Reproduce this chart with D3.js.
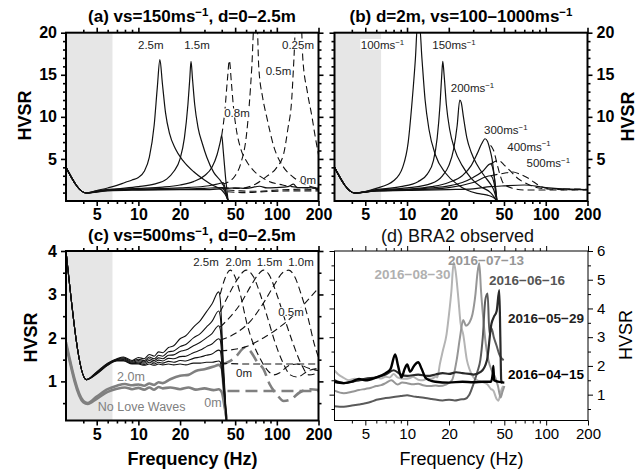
<!DOCTYPE html>
<html><head><meta charset="utf-8">
<script src="https://cdn.jsdelivr.net/npm/d3@7"></script>
<style>body{margin:0;background:#fff}svg{display:block;font-family:"Liberation Sans",Arial,Helvetica,sans-serif}</style>
</head><body><svg id="c" width="639" height="473"></svg>
<script>
// ---------- tick values ----------
const freqMajor = [5, 10, 20, 50, 100, 200];
const freqMinor = [4, 6, 7, 8, 9, 30, 40, 60, 70, 80, 90];
const hvsrMajorAB = [5, 10, 15, 20];
const hvsrMinorAB = [1, 2, 3, 4, 6, 7, 8, 9, 11, 12, 13, 14, 16, 17, 18, 19];
const hvsrMajorC = [1, 2, 3, 4];
const hvsrMinorC = [0.5, 1.5, 2.5, 3.5];
const hvsrMajorD = [1, 2, 3, 4, 5, 6];
const hvsrMinorD = [0.5, 1.5, 2.5, 3.5, 4.5, 5.5];
const shadeRange = [3, 6.5];

// ---------- panel (a): vs=150, d=0-2.5m ----------
const a25 = [[3,4],[4.2,0.95],[5,1.25],[6,1.55],[7,1.85],[8,2.2],[9,2.5],[10,2.8],[11,3.5],[12,5.2],[13,9],[13.7,13.5],[14.3,16.8],[14.9,14],[15.7,10.5],[16.8,8],[18.5,6.2],[21,4.8],[25,3.5],[30,2.5],[35,1.8],[40,1.3],[43,0.6],[44.5,0]];
const a15 = [[3,4],[4.2,0.95],[5,1.2],[7,1.45],[10,1.7],[13,2.0],[16,2.6],[18,3.5],[20,5],[21.5,7.5],[22.8,11.5],[23.5,14.5],[24,16.6],[24.6,14.5],[25.5,11.5],[27,8.7],[29,6.8],[31.2,5.2],[35,3.4],[40,2.2],[42,1.5],[44.5,0]];
const a08 = [[3,4],[4.2,0.95],[6,1.35],[10,1.5],[15,1.65],[20,1.9],[25,2.3],[30,3.0],[34,4.0],[37,5.5],[39,7.0],[40,7.8],[41,6],[42.5,3],[44.5,0]];
const a05 = [[3,4],[4.2,0.95],[6,1.3],[10,1.4],[20,1.55],[30,1.75],[38,2.05],[41,2.2],[43,1],[44.5,0]];
const a025 = [[3,4],[4.2,0.95],[6,1.25],[10,1.35],[20,1.4],[30,1.5],[40,1.6],[42,1.2],[44.5,0]];
const a0 = [[3,4],[4.2,0.95],[6,1.2],[10,1.3],[20,1.35],[30,1.35],[40,1.45],[50,1.55],[60,1.5],[75,1.75],[85,1.55],[100,1.6],[120,1.7],[132,2.0],[140,1.6],[170,1.6],[200,1.5]];
const a25Dash = [[44,1.1],[60,1.0],[80,1.1],[120,1.2],[200,1.2]];
const a15Dash = [[44,1.3],[55,1.2],[70,1.15],[100,1.3],[150,1.4],[200,1.35]];
const a08Dash = [[40,7.8],[42,10.5],[44,14.5],[45.4,16.7],[47,14],[48.6,11.2],[51,8.5],[54.4,6.4],[60,4.8],[67.7,3.65],[84.5,2.46],[110,1.9],[150,1.6],[200,1.5]];
const a05Dash = [[40,2.0],[45,2.3],[50,3.0],[55,4.5],[60.5,8],[66,16],[68.5,21],[72,21],[74,16],[79,12.3],[84.5,10],[95,6.5],[112,4],[130,2.9],[150,2.2],[200,1.5]];
const a025Dash = [[40,1.6],[54,1.5],[70,2.0],[84,2.9],[100,4.0],[112,5.6],[120,8.5],[128,12],[133,17],[137,21],[150,21],[154,17],[166,13],[179.5,10],[190,7.5],[200,5.5]];

// ---------- panel (b): d=2m, vs=100-1000 ----------
const b100 = [[3,4],[4.2,0.95],[6,1.5],[8,2.4],[9.3,4],[10.2,7],[10.9,12],[11.5,17],[11.9,21],[12.3,21],[12.8,17],[13.5,12],[14.4,8.5],[16,5.5],[19,3.3],[23,2.0],[27,1.3],[32,0.9],[38,0.7],[42,0.4],[44.5,0]];
const b150 = [[3,4],[4.2,0.95],[6,1.35],[9,1.7],[12,2.3],[14,3.2],[15.5,4.8],[16.5,7.5],[17.3,11.5],[17.8,15],[18.1,16.6],[18.5,15],[19.2,11.5],[20.3,8.5],[22,6.2],[25,4.2],[29,2.7],[34,1.7],[40,1.0],[44.5,0]];
const b200 = [[3,4],[4.2,0.95],[6,1.3],[10,1.55],[15,2.1],[18,3],[20,4.2],[21.7,6.2],[23,9],[24,12],[24.6,11.7],[25.5,10],[27,7.5],[29,5.8],[32,4.3],[36,3.0],[40,2.0],[42,1.4],[44.5,0]];
const b300 = [[3,4],[4.2,0.95],[6,1.25],[10,1.4],[15,1.7],[20,2.2],[25,3],[29,4.2],[32,5.6],[34.5,6.8],[36.5,7.4],[38,7.1],[39.5,6.2],[41,5],[42.5,3],[44.5,0]];
const b400 = [[3,4],[4.2,0.95],[6,1.2],[10,1.35],[15,1.55],[20,1.8],[25,2.2],[30,2.8],[35,3.5],[40,4.4],[42,3.5],[44.5,0]];
const b500 = [[3,4],[4.2,0.95],[6,1.2],[10,1.3],[20,1.6],[30,2.2],[40,3.0],[42,2.4],[44.5,0]];
const b1000 = [[3,4],[4.2,0.95],[6,1.2],[10,1.25],[20,1.35],[30,1.45],[40,1.7],[50,1.8],[70,1.9],[100,1.6],[150,1.4],[200,1.35]];
const b300Dash = [[40,6.6],[42.1,6.0],[44.6,4.4],[47,3.0],[49.5,2.1],[58,1.5],[70,1.3],[100,1.3],[200,1.3]];
const b400Dash = [[40,4.4],[43,4.7],[46,4.8],[50,4.3],[55,3.65],[63,2.67],[72,2.1],[82,1.7],[100,1.45],[150,1.35],[200,1.35]];
const b500Dash = [[40,3.0],[50,3.3],[58,3.45],[65,3.2],[75,2.7],[82,2.26],[94,1.67],[110,1.45],[200,1.4]];

// ---------- panel (c): vs=500, d=0-2.5m ----------
const c25 = [[3,4.0],[4.2,1.04],[5,1.22],[6,1.42],[7,1.52],[7.8,1.56],[9,1.48],[10,1.55],[11,1.52],[12,1.62],[13,1.58],[14,1.68],[15,1.66],[16.5,1.78],[18,1.82],[20,1.98],[22,2.05],[25,2.25],[28,2.4],[31,2.6],[34,2.78],[38,3.06],[39,2.9],[41,1.5],[43.5,0]];
const c20 = [[3,4.0],[4.2,1.04],[5,1.21],[6,1.41],[7,1.51],[7.8,1.54],[9,1.46],[10,1.51],[11,1.48],[12,1.56],[13,1.52],[14,1.6],[15,1.58],[16.5,1.68],[18,1.7],[20,1.8],[22,1.85],[25,2.0],[28,2.1],[31,2.25],[34,2.38],[38,2.62],[39,2.5],[41,1.3],[43.5,0]];
const c15 = [[3,4.0],[4.2,1.04],[5,1.2],[6,1.4],[7,1.5],[7.8,1.52],[9,1.44],[10,1.48],[11,1.45],[12,1.52],[13,1.48],[14,1.54],[15,1.52],[16.5,1.6],[18,1.61],[20,1.69],[22,1.72],[25,1.82],[28,1.9],[31,2.0],[34,2.1],[38,2.28],[39,2.2],[41,1.2],[43.5,0]];
const c10 = [[3,4.0],[4.2,1.04],[5,1.19],[6,1.39],[7,1.49],[7.8,1.5],[9,1.42],[10,1.45],[11,1.42],[12,1.48],[13,1.44],[14,1.49],[15,1.47],[16.5,1.53],[18,1.52],[20,1.57],[22,1.58],[25,1.66],[28,1.72],[31,1.8],[34,1.86],[38,1.98],[39,1.95],[41,1.1],[43.5,0]];
const c05 = [[3,4.0],[4.2,1.04],[5,1.18],[6,1.38],[7,1.48],[7.8,1.48],[9,1.41],[10,1.42],[11,1.39],[12,1.44],[13,1.4],[14,1.44],[15,1.42],[16.5,1.46],[18,1.44],[20,1.48],[22,1.47],[25,1.53],[28,1.56],[31,1.6],[34,1.63],[38,1.72],[39,1.7],[41,1.0],[43.5,0]];
const c0 = [[3,4.0],[4.2,1.04],[5,1.17],[6,1.37],[7,1.47],[7.8,1.47],[9,1.4],[10,1.4],[11,1.37],[12,1.4],[13,1.37],[14,1.4],[15,1.38],[16.5,1.4],[18,1.38],[20,1.4],[22,1.38],[25,1.42],[28,1.42],[31,1.44],[34,1.44],[38,1.47],[39,1.45],[41,0.9],[43.5,0]];
const c25Dash = [[39,3.0],[42,3.35],[46,3.56],[50,3.4],[55,2.95],[60.5,2.36],[67,1.9],[75,1.55],[86,1.25],[95,1.15],[105,1.2],[120,1.35],[140,1.4],[170,1.3],[200,1.25]];
const c20Dash = [[39,2.6],[45,3.0],[52,3.35],[60,3.56],[68,3.4],[76,3.0],[86,2.45],[97,1.9],[110,1.45],[125,1.15],[140,1.1],[170,1.25],[200,1.3]];
const c15Dash = [[39,2.25],[45,2.45],[55,2.8],[65,3.2],[73,3.45],[80,3.56],[88,3.45],[100,3.0],[115,2.4],[130,1.9],[150,1.4],[170,1.15],[200,1.2]];
const c10Dash = [[39,1.95],[50,2.1],[65,2.4],[80,2.8],[95,3.2],[110,3.5],[122,3.56],[135,3.4],[150,3.0],[170,2.4],[185,1.9],[200,1.55]];
const c05Dash = [[39,1.7],[60,1.8],[80,2.0],[100,2.2],[130,2.5],[160,2.8],[200,3.15]];
const c0Dash = [[39,1.42],[60,1.4],[100,1.4],[200,1.4]];
const cNoLove20 = [[3,1.9],[4,0.55],[4.3,0.5],[5,0.65],[6,0.82],[7,0.9],[8,0.94],[9,0.91],[10,0.93],[11,0.9],[12,0.95],[13,0.92],[14,0.98],[15,0.96],[17,1.05],[20,1.13],[23,1.15],[26,1.24],[30,1.28],[35,1.34],[38,1.38],[40,1.3],[42,0.5],[44,0]];
const cNoLove0 = [[3,1.85],[4,0.52],[4.3,0.48],[5,0.6],[6,0.76],[7,0.83],[8,0.86],[9,0.82],[10,0.85],[11,0.81],[12,0.86],[13,0.81],[14,0.87],[15,0.84],[17,0.86],[20,0.82],[23,0.86],[26,0.81],[30,0.84],[35,0.8],[38,0.82],[40,0.75],[42,0.4],[44,0]];
const cNoLove20Dash = [[40,1.38],[50,1.55],[58.9,1.78],[65,1.68],[72,1.45],[80,1.29],[88.6,0.94],[100,0.7],[112,0.55],[125,0.58],[147,0.75],[175,0.82],[200,0.8]];
const cNoLove0Dash = [[44,0.78],[80,0.78],[200,0.78]];

// ---------- panel (d): BRA2 observed ----------
const d0830 = [[3,1.84],[3.2,1.7],[3.4,1.62],[3.8,1.5],[4.2,1.55],[4.5,1.48],[5,1.55],[5.5,1.52],[6,1.6],[6.5,1.56],[7,1.62],[7.5,1.6],[8,1.72],[8.5,1.6],[9.5,1.55],[10.5,1.58],[11,1.62],[12,1.52],[13,1.5],[14,1.56],[15,1.55],[16,1.62],[16.5,1.6],[17.2,2.07],[18,2.5],[19.2,3.1],[20,3.8],[20.8,4.6],[21.6,5.6],[22.3,5.3],[23.4,4.3],[24.2,3.5],[25.3,3.1],[26.9,2.2],[28,1.9],[30,1.6],[32,1.5],[34,1.45],[37.5,1.37],[40,1.2],[41.7,1.14],[44,0.85],[45.2,0.79],[46.5,0.95],[47.5,1.14],[49,1.3]];
const d0713 = [[3,1.14],[3.5,1.05],[4,1.1],[4.5,1.16],[5,1.2],[5.5,1.24],[6,1.3],[6.5,1.33],[7,1.4],[7.7,1.5],[8.5,1.35],[9.2,1.42],[10,1.4],[11,1.36],[12,1.38],[13,1.33],[14.7,1.3],[16,1.32],[17,1.3],[19,1.35],[21,1.5],[22.7,2.2],[24,3.0],[25.3,3.6],[26.5,3.4],[28,3.5],[29.5,3.8],[31,4.5],[32,5.2],[33,5.57],[34,4.6],[35.2,3.7],[36.5,2.9],[38.4,2.2],[41,1.8],[43,1.6],[45,1.3],[47,0.9],[48.5,1.1],[50,1.3]];
const d0616 = [[3,0.6],[3.5,0.58],[4,0.62],[4.5,0.66],[5,0.7],[5.5,0.75],[6,0.82],[7,0.88],[8,0.92],[9,0.95],[10,0.98],[11,0.94],[12,0.92],[13.5,0.88],[15,0.85],[18,0.8],[20,0.82],[22,0.8],[24,0.83],[26,0.85],[28,1.0],[30,1.37],[32,1.8],[33.6,2.2],[35,3.0],[36.5,4.3],[37.9,4.52],[39.1,3.12],[40.5,3.3],[42,3.0],[44,2.7],[46,2.4],[48,2.25],[49.5,2.2]];
const d0529 = [[3,1.5],[3.5,1.4],[4,1.45],[4.5,1.5],[5,1.55],[6,1.6],[7,1.7],[8,1.85],[9,1.7],[10,1.65],[12,1.7],[14,1.65],[16,1.7],[18,1.75],[20,1.72],[22.5,1.78],[25,1.75],[28,1.72],[30,1.7],[34,1.8],[37.5,2.2],[40.4,3.47],[42,3.7],[44,3.9],[46,4.64],[46.8,3.0],[47.5,1.5],[48.5,1.4]];
const d0415 = [[3,1.45],[3.5,1.4],[4,1.45],[4.5,1.55],[5,1.5],[6,1.6],[7,1.75],[7.6,1.9],[8.2,2.4],[8.6,2.0],[9.1,1.6],[9.6,1.9],[10,2.05],[10.5,1.8],[11.2,2.0],[12,2.13],[12.7,1.9],[13.5,1.6],[14.5,1.5],[16,1.45],[20,1.42],[25,1.45],[30,1.43],[35,1.45],[40,1.45],[41.2,1.7],[41.7,2.0],[42.2,1.5],[45,1.45],[50,1.42]];

// ---------- drawing ----------
const svg = d3.select('#c');
const FONT = '"Liberation Sans",Arial,Helvetica,sans-serif';

function panel(o) {
  const x = d3.scaleLog().domain([3, 200]).range([o.x0, o.x1]);
  const y = d3.scaleLinear().domain(o.yDom).range([o.yb, o.yt]);
  const g = svg.append('g');
  const id = 'clip_' + o.id;
  svg.append('clipPath').attr('id', id).append('rect')
    .attr('x', o.x0).attr('y', o.yt).attr('width', o.x1 - o.x0).attr('height', o.yb - o.yt);
  if (o.shade) {
    g.append('rect').attr('x', x(shadeRange[0])).attr('y', o.yt)
      .attr('width', x(shadeRange[1]) - x(shadeRange[0])).attr('height', o.yb - o.yt)
      .attr('fill', '#e6e6e6');
  }
  const plot = g.append('g').attr('clip-path', `url(#${id})`);
  const fw = o.bold ? 'bold' : 'normal';
  const tw = o.bold ? 1.6 : 1;
  const fs = o.bold ? 16 : 15;
  const style = (sel) => {
    sel.select('.domain').remove();
    sel.selectAll('line').attr('stroke', '#000').attr('stroke-width', tw);
    sel.selectAll('text').attr('font-size', fs).attr('font-weight', fw).attr('font-family', FONT).attr('fill', '#000');
    sel.attr('font-size', null).attr('font-family', null);
  };
  const none = () => '';
  g.append('g').attr('transform', `translate(0,${o.yb})`)
    .call(d3.axisBottom(x).tickValues(freqMajor).tickSize(5).tickPadding(3).tickFormat(d3.format('d'))).call(style);
  g.append('g').attr('transform', `translate(0,${o.yb})`)
    .call(d3.axisBottom(x).tickValues(freqMinor).tickSize(3).tickFormat(none)).call(style);
  g.append('g').attr('transform', `translate(0,${o.yt})`)
    .call(d3.axisTop(x).tickValues(freqMajor).tickSize(5).tickFormat(none)).call(style);
  g.append('g').attr('transform', `translate(0,${o.yt})`)
    .call(d3.axisTop(x).tickValues(freqMinor).tickSize(3).tickFormat(none)).call(style);
  g.append('g').attr('transform', `translate(${o.x0},0)`)
    .call(d3.axisLeft(y).tickValues(o.yMajor).tickSize(5).tickPadding(4).tickFormat(o.side === 'left' ? d3.format('d') : none)).call(style);
  g.append('g').attr('transform', `translate(${o.x0},0)`)
    .call(d3.axisLeft(y).tickValues(o.yMinor).tickSize(3).tickFormat(none)).call(style);
  g.append('g').attr('transform', `translate(${o.x1},0)`)
    .call(d3.axisRight(y).tickValues(o.yMajor).tickSize(5).tickPadding(4).tickFormat(o.side === 'right' ? d3.format('d') : none)).call(style);
  g.append('g').attr('transform', `translate(${o.x1},0)`)
    .call(d3.axisRight(y).tickValues(o.yMinor).tickSize(3).tickFormat(none)).call(style);
  const line = d3.line().x(d => x(d[0])).y(d => y(d[1])).curve(d3.curveMonotoneX);
  const frame = () => g.append('rect').attr('x', o.x0).attr('y', o.yt)
    .attr('width', o.x1 - o.x0).attr('height', o.yb - o.yt)
    .attr('fill', 'none').attr('stroke', '#000').attr('stroke-width', o.bold ? 2 : 1);
  return { x, y, g, plot, line, frame };
}

function draw(p, data, stroke, width, dash) {
  p.plot.append('path').datum(data).attr('d', p.line)
    .attr('fill', 'none').attr('stroke', stroke).attr('stroke-width', width)
    .attr('stroke-dasharray', dash || null).attr('stroke-linejoin', 'round');
}

function label(parent, x, y, parts, opt) {
  opt = opt || {};
  const size = opt.size || 11.5;
  const t = parent.append('text').attr('x', x).attr('y', y)
    .attr('text-anchor', opt.anchor || 'middle')
    .attr('font-family', FONT).attr('font-size', size)
    .attr('font-weight', opt.weight || 'normal').attr('fill', opt.color || '#222');
  parts.forEach(p => {
    if (typeof p === 'string') t.append('tspan').text(p);
    else t.append('tspan').attr('font-size', size * 0.68).attr('dy', p.dy).text(p.t);
  });
  if (opt.box) {
    const b = t.node().getBBox();
    parent.insert('rect', () => t.node()).attr('x', b.x - 0.5).attr('y', b.y + 1.5)
      .attr('width', b.width + 1).attr('height', b.height - 3).attr('fill', '#fff');
  }
  return t;
}

// ---------- panel a ----------
const pa = panel({ id: 'a', x0: 66, x1: 318.5, yt: 32.7, yb: 201, yDom: [0, 20], yMajor: hvsrMajorAB, yMinor: hvsrMinorAB, side: 'left', bold: true, shade: true });
[a25Dash, a15Dash, a08Dash, a05Dash, a025Dash].forEach(s => draw(pa, s, '#111', 1.1, '7,4'));
[a0, a025, a05, a08, a15, a25].forEach(s => draw(pa, s, '#111', 1.2));
pa.frame();
label(pa.g, 150.8, 49, ['2.5m'], { box: true });
label(pa.g, 197, 49, ['1.5m'], { box: true });
label(pa.g, 237, 117, ['0.8m'], { box: true });
label(pa.g, 278.5, 75, ['0.5m'], { box: true });
label(pa.g, 298, 49, ['0.25m'], { box: true });
label(pa.g, 308, 184, ['0m'], { box: true });

// ---------- panel b ----------
const pb = panel({ id: 'b', x0: 334.5, x1: 587.5, yt: 32.7, yb: 201, yDom: [0, 20], yMajor: hvsrMajorAB, yMinor: hvsrMinorAB, side: 'right', bold: true, shade: true });
[b300Dash, b400Dash, b500Dash].forEach(s => draw(pb, s, '#111', 1.1, '7,4'));
[b1000, b500, b400, b300, b200, b150, b100].forEach(s => draw(pb, s, '#111', 1.2));
pb.frame();
function msLabel(p, x, y, v) {
  label(p.g, x, y, [v + 'ms', { t: '−1', dy: -4.5 }], { box: true });
}
msLabel(pb, 382.5, 49, '100');
msLabel(pb, 454, 49, '150');
msLabel(pb, 472.5, 92, '200');
msLabel(pb, 505.8, 134, '300');
msLabel(pb, 529, 150.7, '400');
msLabel(pb, 548.3, 167.3, '500');

// ---------- panel c ----------
const pc = panel({ id: 'c', x0: 66, x1: 318.5, yt: 251, yb: 420.5, yDom: [0.1, 4], yMajor: hvsrMajorC, yMinor: hvsrMinorC, side: 'left', bold: true, shade: true });
[cNoLove20Dash, cNoLove0Dash].forEach(s => draw(pc, s, '#808080', 2.6, '12,6'));
[cNoLove20, cNoLove0].forEach(s => draw(pc, s, '#808080', 2.6));
[c25Dash, c20Dash, c15Dash, c10Dash, c05Dash, c0Dash].forEach(s => draw(pc, s, '#111', 1.1, '7,4'));
[c0, c05, c10, c15, c20, c25].forEach(s => draw(pc, s, '#111', 1.1));
pc.frame();
label(pc.g, 206, 265.5, ['2.5m']);
label(pc.g, 238.3, 265.5, ['2.0m']);
label(pc.g, 269.5, 265.5, ['1.5m']);
label(pc.g, 301, 265.5, ['1.0m']);
label(pc.g, 291, 315.7, ['0.5m'], { box: true });
label(pc.g, 244, 376.7, ['0m'], { box: true });
label(pc.g, 131, 380.7, ['2.0m'], { color: '#808080', size: 12.5 });
label(pc.g, 141.7, 410.5, ['No Love Waves'], { color: '#808080', size: 12.5 });
label(pc.g, 213, 406.5, ['0m'], { color: '#808080', size: 12.5 });

// ---------- panel d ----------
const pd = panel({ id: 'd', x0: 334.5, x1: 588, yt: 251, yb: 420.5, yDom: [0.1, 6], yMajor: hvsrMajorD, yMinor: hvsrMinorD, side: 'right', bold: false, shade: false });
draw(pd, d0830, '#b4b4b4', 2);
draw(pd, d0713, '#969696', 2);
draw(pd, d0616, '#5a5a5a', 2);
draw(pd, d0529, '#2a2a2a', 2.2);
draw(pd, d0415, '#000', 2.4);
pd.frame();
label(pd.g, 412.5, 279, ['2016−08−30'], { weight: 'bold', size: 13.5, color: '#b0b0b0' });
label(pd.g, 486, 265, ['2016−07−13'], { weight: 'bold', size: 13.5, color: '#969696' });
label(pd.g, 527, 285, ['2016−06−16'], { weight: 'bold', size: 13.5, color: '#555' });
label(pd.g, 546, 323, ['2016−05−29'], { weight: 'bold', size: 13.5, color: '#222' });
label(pd.g, 546, 379, ['2016−04−15'], { weight: 'bold', size: 13.5, color: '#000' });

// ---------- titles & axis labels ----------
function title(x, y, before, supTxt, after, weight) {
  const t = svg.append('text').attr('x', x).attr('y', y).attr('text-anchor', 'middle')
    .attr('font-family', FONT).attr('font-size', 17).attr('font-weight', weight).attr('fill', '#000');
  t.append('tspan').text(before);
  t.append('tspan').attr('font-size', 11.5).attr('dy', -6.5).text(supTxt);
  if (after) t.append('tspan').attr('dy', 6.5).text(after);
}
title(192, 22, '(a) vs=150ms', '−1', ', d=0–2.5m', 'bold');
title(461, 22, '(b) d=2m, vs=100–1000ms', '−1', '', 'bold');
title(192, 241, '(c) vs=500ms', '−1', ', d=0–2.5m', 'bold');
svg.append('text').attr('x', 457.5).attr('y', 242).attr('text-anchor', 'middle')
  .attr('font-family', FONT).attr('font-size', 18).attr('fill', '#111').text('(d) BRA2 observed');

function axisLabel(x, y, rot, txt, weight) {
  svg.append('text').attr('transform', `translate(${x},${y}) rotate(${rot})`)
    .attr('text-anchor', 'middle').attr('font-family', FONT).attr('font-size', 18)
    .attr('font-weight', weight).attr('fill', '#000').text(txt);
}
axisLabel(30.5, 115.5, -90, 'HVSR', 'bold');
axisLabel(634, 116.5, -90, 'HVSR', 'bold');
axisLabel(37, 337.5, -90, 'HVSR', 'bold');
axisLabel(632, 335, -90, 'HVSR', 'normal');
axisLabel(192.5, 464.5, 0, 'Frequency (Hz)', 'bold');
axisLabel(461.5, 464.5, 0, 'Frequency (Hz)', 'normal');
</script></body></html>
